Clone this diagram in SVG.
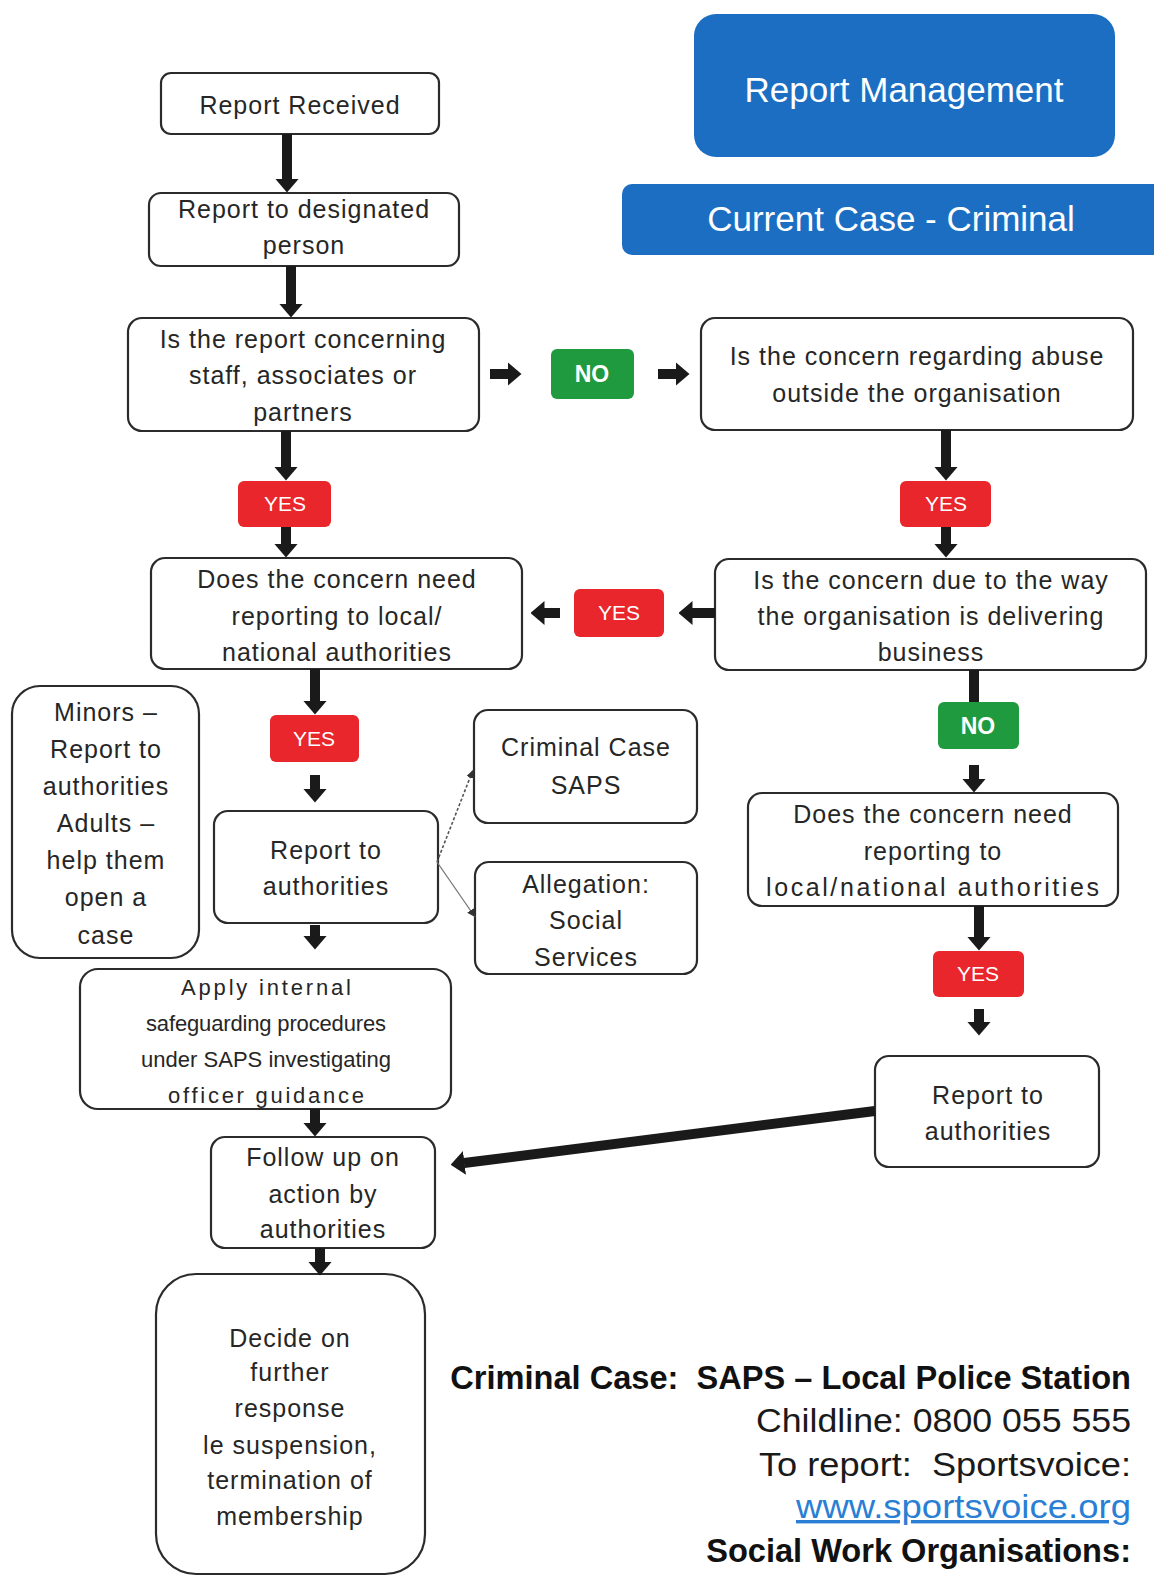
<svg xmlns="http://www.w3.org/2000/svg" width="1154" height="1578" viewBox="0 0 1154 1578">
<style>
.box{fill:#fff;stroke:#2b2b2b;stroke-width:2.2}
.t{font-family:"Liberation Sans",Arial,sans-serif;font-size:25px;fill:#262626;text-anchor:middle;letter-spacing:1px}
.ta{font-family:"Liberation Sans",Arial,sans-serif;font-size:22px;fill:#262626;text-anchor:middle}
.yes{fill:#e8262b}
.no{fill:#1f9a3e}
.blue{fill:#1b6ec2}
.lbl{font-family:"Liberation Sans",Arial,sans-serif;font-size:21px;fill:#fff;text-anchor:middle}
.lbln{font-family:"Liberation Sans",Arial,sans-serif;font-size:23px;font-weight:bold;fill:#fff;text-anchor:middle}
.title{font-family:"Liberation Sans",Arial,sans-serif;font-size:35px;fill:#fff;text-anchor:middle}
.arr{stroke:#1a1a1a;stroke-width:10;fill:none;marker-end:url(#ah)}
.foot{font-family:"Liberation Sans",Arial,sans-serif;font-size:34px;fill:#1a1a1a;text-anchor:end;white-space:pre}
.footb{font-family:"Liberation Sans",Arial,sans-serif;font-size:32.6px;font-weight:bold;fill:#111;text-anchor:end;white-space:pre}
</style>
<defs>
<marker id="ah" viewBox="0 0 14 24" refX="0.5" refY="12" markerWidth="14" markerHeight="24" markerUnits="userSpaceOnUse" orient="auto"><path d="M0,0 L14,12 L0,24 Z" fill="#1a1a1a"/></marker>
<marker id="sm" viewBox="0 0 8 8" refX="8" refY="4" markerWidth="8" markerHeight="8" markerUnits="userSpaceOnUse" orient="auto"><path d="M0,0 L8,4 L0,8 Z" fill="#333"/></marker>
</defs>
<rect width="1154" height="1578" fill="#fff"/>

<g id="title">
<rect class="blue" x="694" y="14" width="421" height="143" rx="22"/>
<text class="title" x="904" y="102">Report Management</text>
</g>
<g id="subtitle">
<rect class="blue" x="622" y="184" width="545" height="71" rx="10"/>
<text class="title" x="891" y="231">Current Case - Criminal</text>
</g>

<g id="n-received">
<rect class="box" x="161" y="73" width="278" height="61" rx="10"/>
<text class="t" x="300" y="114">Report Received</text>
</g>
<g id="n-designated">
<rect class="box" x="149" y="193" width="310" height="73" rx="12"/>
<text class="t" x="304" y="218">Report to designated</text>
<text class="t" x="304" y="254">person</text>
</g>
<g id="n-staff">
<rect class="box" x="128" y="318" width="351" height="113" rx="14"/>
<text class="t" x="303" y="348">Is the report concerning</text>
<text class="t" x="303" y="384">staff, associates or</text>
<text class="t" x="303" y="421">partners</text>
</g>
<g id="l-no1">
<rect class="no" x="551" y="349" width="83" height="50" rx="6"/>
<text class="lbln" x="592" y="382">NO</text>
</g>
<g id="n-outside">
<rect class="box" x="701" y="318" width="432" height="112" rx="14"/>
<text class="t" x="917" y="365">Is the concern regarding abuse</text>
<text class="t" x="917" y="402">outside the organisation</text>
</g>
<g id="l-yes1">
<rect class="yes" x="238" y="481" width="93" height="46" rx="6"/>
<text class="lbl" x="285" y="511">YES</text>
</g>
<g id="l-yes2">
<rect class="yes" x="900" y="481" width="91" height="46" rx="6"/>
<text class="lbl" x="946" y="511">YES</text>
</g>
<g id="n-need-left">
<rect class="box" x="151" y="558" width="371" height="111" rx="14"/>
<text class="t" x="337" y="588">Does the concern need</text>
<text class="t" x="337" y="625">reporting to local/</text>
<text class="t" x="337" y="661">national authorities</text>
</g>
<g id="n-due">
<rect class="box" x="715" y="559" width="431" height="111" rx="14"/>
<text class="t" x="931" y="589">Is the concern due to the way</text>
<text class="t" x="931" y="625">the organisation is delivering</text>
<text class="t" x="931" y="661">business</text>
</g>
<g id="l-yes3">
<rect class="yes" x="574" y="589" width="90" height="48" rx="6"/>
<text class="lbl" x="619" y="620">YES</text>
</g>
<g id="l-yes4">
<rect class="yes" x="270" y="715" width="89" height="47" rx="6"/>
<text class="lbl" x="314" y="746">YES</text>
</g>
<g id="l-no2">
<rect class="no" x="938" y="702" width="81" height="47" rx="6"/>
<text class="lbln" x="978" y="734">NO</text>
</g>
<g id="n-minors">
<rect class="box" x="12" y="686" width="187" height="272" rx="28"/>
<text class="t" x="106" y="721">Minors –</text>
<text class="t" x="106" y="758">Report to</text>
<text class="t" x="106" y="795">authorities</text>
<text class="t" x="106" y="832">Adults –</text>
<text class="t" x="106" y="869">help them</text>
<text class="t" x="106" y="906">open a</text>
<text class="t" x="106" y="944">case</text>
</g>
<g id="n-report-left">
<rect class="box" x="214" y="811" width="224" height="112" rx="14"/>
<text class="t" x="326" y="859">Report to</text>
<text class="t" x="326" y="895">authorities</text>
</g>
<g id="n-criminal">
<rect class="box" x="474" y="710" width="223" height="113" rx="14"/>
<text class="t" x="586" y="756">Criminal Case</text>
<text class="t" x="586" y="794">SAPS</text>
</g>
<g id="n-allegation">
<rect class="box" x="475" y="862" width="222" height="112" rx="14"/>
<text class="t" x="586" y="893">Allegation:</text>
<text class="t" x="586" y="929">Social</text>
<text class="t" x="586" y="966">Services</text>
</g>
<g id="n-need-right">
<rect class="box" x="748" y="793" width="370" height="113" rx="14"/>
<text class="t" x="933" y="823">Does the concern need</text>
<text class="t" x="933" y="860">reporting to</text>
<text class="t" x="933" y="896" textLength="334" lengthAdjust="spacing">local/national authorities</text>
</g>
<g id="l-yes5">
<rect class="yes" x="933" y="951" width="91" height="46" rx="6"/>
<text class="lbl" x="978" y="981">YES</text>
</g>
<g id="n-apply">
<rect class="box" x="80" y="969" width="371" height="140" rx="18"/>
<text class="ta" x="266" y="995" textLength="170" lengthAdjust="spacing">Apply internal</text>
<text class="ta" x="266" y="1031" textLength="240" lengthAdjust="spacing">safeguarding procedures</text>
<text class="ta" x="266" y="1067" textLength="250" lengthAdjust="spacing">under SAPS investigating</text>
<text class="ta" x="266" y="1103" textLength="196" lengthAdjust="spacing">officer guidance</text>
</g>
<g id="n-report-right">
<rect class="box" x="875" y="1056" width="224" height="111" rx="14"/>
<text class="t" x="988" y="1104">Report to</text>
<text class="t" x="988" y="1140">authorities</text>
</g>
<g id="n-follow">
<rect class="box" x="211" y="1137" width="224" height="111" rx="14"/>
<text class="t" x="323" y="1166">Follow up on</text>
<text class="t" x="323" y="1203">action by</text>
<text class="t" x="323" y="1238">authorities</text>
</g>
<g id="n-decide">
<rect class="box" x="156" y="1274" width="269" height="300" rx="40"/>
<text class="t" x="290" y="1347">Decide on</text>
<text class="t" x="290" y="1381">further</text>
<text class="t" x="290" y="1417">response</text>
<text class="t" x="290" y="1454">le suspension,</text>
<text class="t" x="290" y="1489">termination of</text>
<text class="t" x="290" y="1525">membership</text>
</g>

<g id="connectors">
<line class="arr" x1="287" y1="134" x2="287" y2="179"/>
<line class="arr" x1="291" y1="266" x2="291" y2="304"/>
<line class="arr" x1="286" y1="431" x2="286" y2="467"/>
<line class="arr" x1="286" y1="527" x2="286" y2="544"/>
<line class="arr" x1="315" y1="669" x2="315" y2="701"/>
<line class="arr" x1="315" y1="775" x2="315" y2="789"/>
<line class="arr" x1="315" y1="925" x2="315" y2="936"/>
<line class="arr" x1="315" y1="1109" x2="315" y2="1123"/>
<line class="arr" x1="320" y1="1248" x2="320" y2="1262"/>
<line class="arr" x1="490" y1="374" x2="508" y2="374"/>
<line class="arr" x1="658" y1="374" x2="676" y2="374"/>
<line class="arr" x1="946" y1="430" x2="946" y2="467"/>
<line class="arr" x1="946" y1="527" x2="946" y2="544"/>
<line class="arr" x1="715" y1="613" x2="692" y2="613"/>
<line class="arr" x1="560" y1="613" x2="544" y2="613"/>
<line x1="974" y1="670" x2="974" y2="702" stroke="#1a1a1a" stroke-width="10"/>
<line class="arr" x1="974" y1="765" x2="974" y2="779"/>
<line class="arr" x1="979" y1="906" x2="979" y2="937"/>
<line class="arr" x1="979" y1="1009" x2="979" y2="1022"/>
<line class="arr" x1="875" y1="1111" x2="464" y2="1163" stroke-width="8"/>
<line x1="437" y1="862" x2="473" y2="770" stroke="#555" stroke-width="1.6" stroke-dasharray="3 2" marker-end="url(#sm)"/>
<line x1="437" y1="862" x2="475" y2="917" stroke="#777" stroke-width="1.3" marker-end="url(#sm)"/>
</g>

<g id="footer">
<text class="footb" x="1131" y="1389">Criminal Case:  SAPS – Local Police Station</text>
<text class="foot" x="1131" y="1432" textLength="375" lengthAdjust="spacingAndGlyphs">Childline: 0800 055 555</text>
<text class="foot" x="1131" y="1476" textLength="372" lengthAdjust="spacingAndGlyphs">To report:  Sportsvoice:</text>
<text class="foot" x="1131" y="1518" textLength="335" lengthAdjust="spacingAndGlyphs" style="fill:#2a7fd4;text-decoration:underline">www.sportsvoice.org</text>
<text class="footb" x="1131" y="1562">Social Work Organisations:</text>
</g>
</svg>
